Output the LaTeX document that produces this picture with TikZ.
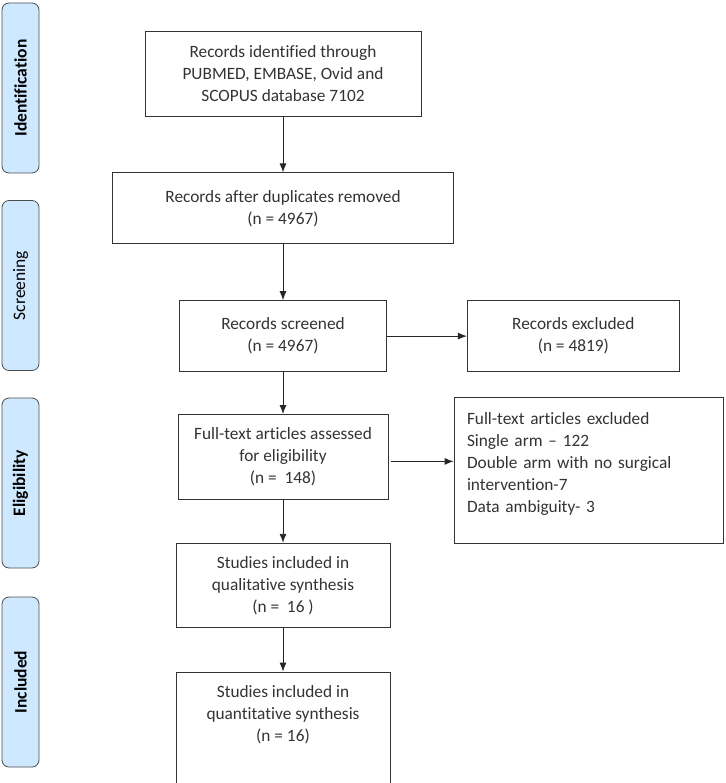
\documentclass[tikz,border=0pt]{standalone}
\usepackage{fontspec}
\setmainfont{Carlito}[Ligatures={TeX,NoCommon}]
\usetikzlibrary{arrows.meta, positioning}
\definecolor{phaseblue}{RGB}{206,233,255}
\tikzstyle{record} = [draw=black!80, line width=0.8pt, rectangle, align=center, text=black!80, font=\fontsize{17.3}{22}\selectfont, inner sep=4pt]
\tikzstyle{phase} = [draw=black!70, fill=phaseblue, line width=0.8pt, rectangle, rounded corners=7pt, rotate=90, minimum width=170pt, minimum height=37pt, font=\fontsize{17.5}{20}\selectfont]
\tikzstyle{flow} = [-{Latex[length=9pt,width=7pt]}, line width=0.9pt, draw=black!85]

\begin{document}
\begin{tikzpicture}[x=1pt, y=-1pt]
	\useasboundingbox (0,0) rectangle (725,783);
	\node [phase, font=\fontsize{17.5}{20}\selectfont\bfseries] (identification) at (20.5,88) {Identification};
	\node [phase] (screening) at (20.5,285.5) {Screening};
	\node [phase, font=\fontsize{17.5}{20}\selectfont\bfseries] (eligibility) at (20.5,483) {Eligibility};
	\node [phase, font=\fontsize{17.5}{20}\selectfont\bfseries] (included) at (20.5,682) {Included};

	\node [record, minimum width=276pt, minimum height=85pt] (identified) at (283,73.5) {Records identified through\\PUBMED, EMBASE, Ovid and\\SCOPUS database 7102};
	\node [record, minimum width=341pt, minimum height=71pt, below=56pt of identified] (duplicates) {Records after duplicates removed\\(n = 4967)};
	\node [record, minimum width=207pt, minimum height=71pt, below=56pt of duplicates] (screened) {Records screened\\(n = 4967)};
	\node [record, minimum width=210pt, minimum height=85pt, below=42pt of screened] (assessed) {Full-text articles assessed\\for eligibility\\(n =\ \ 148)};
	\node [record, minimum width=214pt, minimum height=84pt, below=43pt of assessed] (qualitative) {Studies included in\\qualitative synthesis\\(n =\ \ 16 )};
	\node [record, minimum width=214pt, minimum height=113pt, text depth=31pt, below=44pt of qualitative] (quantitative) {Studies included in\\quantitative synthesis\\(n = 16)};

	\node [record, minimum width=212pt, minimum height=71pt, right=80pt of screened] (excluded) {Records excluded\\(n = 4819)};
	\node [record, align=left, text width=243pt, minimum width=269pt, minimum height=146pt, text depth=104pt] (fulltextout) at (588.5,470) {Full-text articles excluded\\Single arm -- 122\\Double arm with no surgical\\intervention-7\\Data ambiguity- 3};

	\draw [flow] (identified.south -| duplicates) -- (duplicates.north);
	\draw [flow] (duplicates) -- (screened);
	\draw [flow] (screened) -- (assessed);
	\draw [flow] (assessed) -- (qualitative);
	\draw [flow] (qualitative) -- (quantitative.north);
	\draw [flow] (screened) -- (excluded);
	\draw [flow] ([xshift=3pt, yshift=-4.5pt]assessed.east) -- ([yshift=-4.5pt]assessed.east -| fulltextout.west);
\end{tikzpicture}
\end{document}
